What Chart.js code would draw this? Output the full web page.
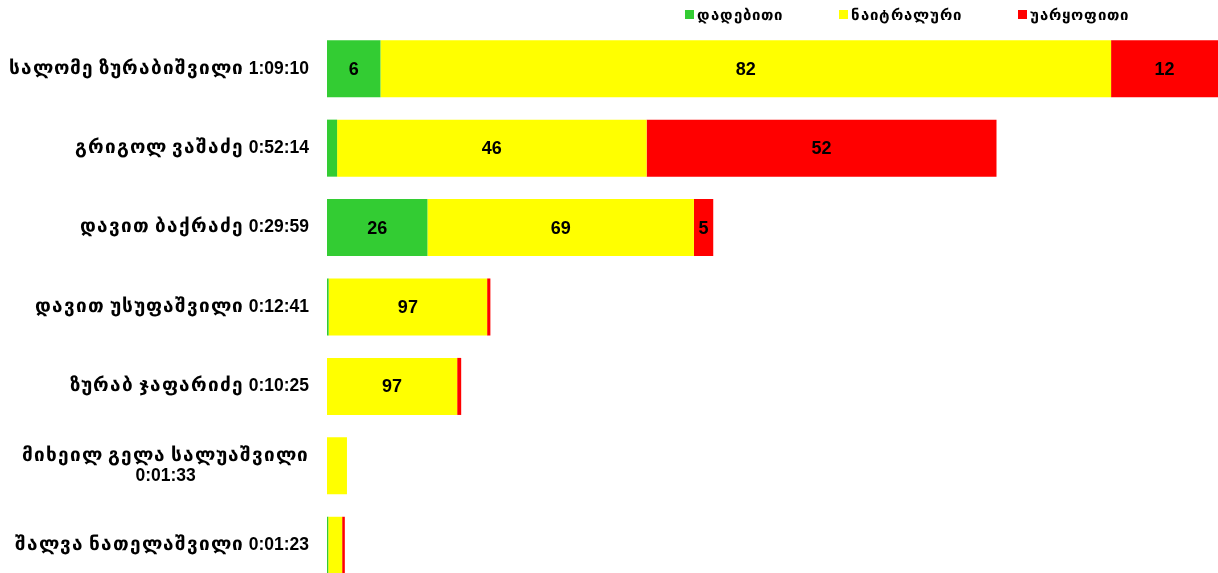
<!DOCTYPE html>
<html>
<head>
<meta charset="utf-8">
<script src="https://cdn.jsdelivr.net/npm/chart.js@4/dist/chart.umd.min.js"></script>
<style>
@font-face { font-family: 'GeoSans'; src: local('DejaVu Sans Bold'), local('DejaVuSans-Bold'); font-weight: bold; size-adjust: 108%; unicode-range: U+10A0-10FF, U+1C90-1CBF, U+2D00-2D2F; }
@font-face { font-family: 'GeoSans'; src: local('DejaVu Sans'), local('DejaVuSans'); font-weight: normal; size-adjust: 108%; unicode-range: U+10A0-10FF, U+1C90-1CBF, U+2D00-2D2F; }
html,body{margin:0;padding:0;background:#fff;overflow:hidden;}
#wrap{position:absolute;left:0;top:0;width:1218px;height:585px;}
</style>
</head>
<body>
<div id="wrap"><canvas id="c"></canvas></div>
<script>
// ---- data ----
const speakers = [
  "სალომე ზურაბიშვილი",
  "გრიგოლ ვაშაძე",
  "დავით ბაქრაძე",
  "დავით უსუფაშვილი",
  "ზურაბ ჯაფარიძე",
  "მიხეილ გელა სალუაშვილი",
  "შალვა ნათელაშვილი"
];
const durations = ["1:09:10", "0:52:14", "0:29:59", "0:12:41", "0:10:25", "0:01:33", "0:01:23"];
const positivePct = [6, 1.5, 26, 1, 0, 0, 7];
const neutralPct  = [82, 46, 69, 97, 97, 100, 78];
const negativePct = [12, 52, 5, 2, 3, 0, 15];
const seriesNames = ["დადებითი", "ნაიტრალური", "უარყოფითი"];
const seriesColors = ["#33CC33", "#FFFF00", "#FF0000"];

// ---- derived ----
function toSeconds(s){ const p = s.split(":").map(Number); return p[0]*3600 + p[1]*60 + p[2]; }
const seconds = durations.map(toSeconds);
const categories = speakers.map((n, i) => n + " " + durations[i]);
const pctSets = [positivePct, neutralPct, negativePct];

const FONT = "GeoSans, 'Liberation Sans', 'DejaVu Sans', sans-serif";
const GEO_SPACING = 1;

function runs(text) {
  return text.match(/[\u10A0-\u10FF\u1C90-\u1CBF]+|[^\u10A0-\u10FF\u1C90-\u1CBF]+/g) || [];
}
function richWidth(ctx, text, sp) {
  let w = 0;
  runs(text).forEach(r => {
    const geo = /[\u10A0-\u10FF]/.test(r);
    ctx.letterSpacing = geo ? sp + "px" : "0px";
    w += ctx.measureText(r).width;
  });
  ctx.letterSpacing = "0px";
  return w;
}
function richDraw(ctx, text, x, y, sp) {
  ctx.textAlign = "left";
  runs(text).forEach(r => {
    const geo = /[\u10A0-\u10FF]/.test(r);
    ctx.letterSpacing = geo ? sp + "px" : "0px";
    ctx.fillText(r, x, y);
    x += ctx.measureText(r).width;
  });
  ctx.letterSpacing = "0px";
  return x;
}

const yLabelPlugin = {
  id: 'yLabels',
  afterDraw(chart) {
    const ctx = chart.ctx, sc = chart.scales.y;
    ctx.save();
    ctx.font = "bold 17.5px " + FONT;
    ctx.fillStyle = "#000";
    ctx.textBaseline = "middle";
    const right = 309, maxW = 305, lh = 20;
    categories.forEach((lab, i) => {
      const words = lab.split(" ");
      const lines = [];
      let cur = "";
      words.forEach(w => {
        const t = cur ? cur + " " + w : w;
        if (richWidth(ctx, t, GEO_SPACING) > maxW && cur) { lines.push(cur); cur = w; }
        else cur = t;
      });
      lines.push(cur);
      const widths = lines.map(l => richWidth(ctx, l, GEO_SPACING));
      const bw = Math.max(...widths);
      const y0 = sc.getPixelForValue(i) - (lines.length - 1) * lh / 2;
      lines.forEach((l, k) => {
        const cx = right - bw / 2;
        richDraw(ctx, l, cx - widths[k] / 2, y0 + k * lh, GEO_SPACING);
      });
    });
    ctx.restore();
  }
};

const valueLabelPlugin = {
  id: 'valueLabels',
  afterDatasetsDraw(chart) {
    const ctx = chart.ctx;
    ctx.save();
    ctx.font = "bold 18px " + FONT;
    ctx.fillStyle = "#000";
    ctx.textAlign = "center";
    ctx.textBaseline = "middle";
    chart.data.datasets.forEach((ds, di) => {
      const meta = chart.getDatasetMeta(di);
      meta.data.forEach((el, i) => {
        const pct = pctSets[di][i];
        const txt = String(pct);
        const w = Math.abs(el.x - el.base);
        if (pct >= 5 && ctx.measureText(txt).width + 4 <= w) {
          ctx.fillText(txt, (el.x + el.base) / 2, el.y + 1);
        }
      });
    });
    ctx.restore();
  }
};

const legendPlugin = {
  id: 'customLegend',
  afterDraw(chart) {
    const ctx = chart.ctx;
    ctx.save();
    ctx.font = "bold 14px " + FONT;
    ctx.textBaseline = "middle";
    let x = 685;
    const y = 15, box = 9, gap = 3, itemGap = 56;
    chart.data.datasets.forEach(ds => {
      ctx.fillStyle = ds.backgroundColor;
      ctx.fillRect(x, y - 5, box, box);
      ctx.fillStyle = "#000";
      const end = richDraw(ctx, ds.label, x + box + gap, y + 1, GEO_SPACING);
      x = end + itemGap;
    });
    ctx.restore();
  }
};

function draw() {
  new Chart(document.getElementById('c'), {
    type: 'bar',
    data: {
      labels: categories,
      datasets: seriesNames.map((name, di) => ({
        label: name,
        data: pctSets[di].map((p, i) => p / 100 * seconds[i]),
        backgroundColor: seriesColors[di],
        borderWidth: 0,
        categoryPercentage: 1,
        barPercentage: 0.718
      }))
    },
    options: {
      indexAxis: 'y',
      responsive: true,
      maintainAspectRatio: false,
      animation: false,
      layout: { padding: { top: 29, right: 0, bottom: 0, left: 0 } },
      plugins: { legend: { display: false }, tooltip: { enabled: false } },
      scales: {
        x: { stacked: true, display: false, min: 0, max: Math.max(...seconds) },
        y: {
          stacked: true,
          grid: { display: false },
          border: { display: false },
          ticks: { display: false },
          afterFit(scale) { scale.width = 327; }
        }
      }
    },
    plugins: [yLabelPlugin, valueLabelPlugin, legendPlugin]
  });
}

Promise.all([
  document.fonts.load("bold 17px GeoSans", "სა"),
  document.fonts.load("14px GeoSans", "სა")
]).then(draw, draw);
</script>
</body>
</html>
